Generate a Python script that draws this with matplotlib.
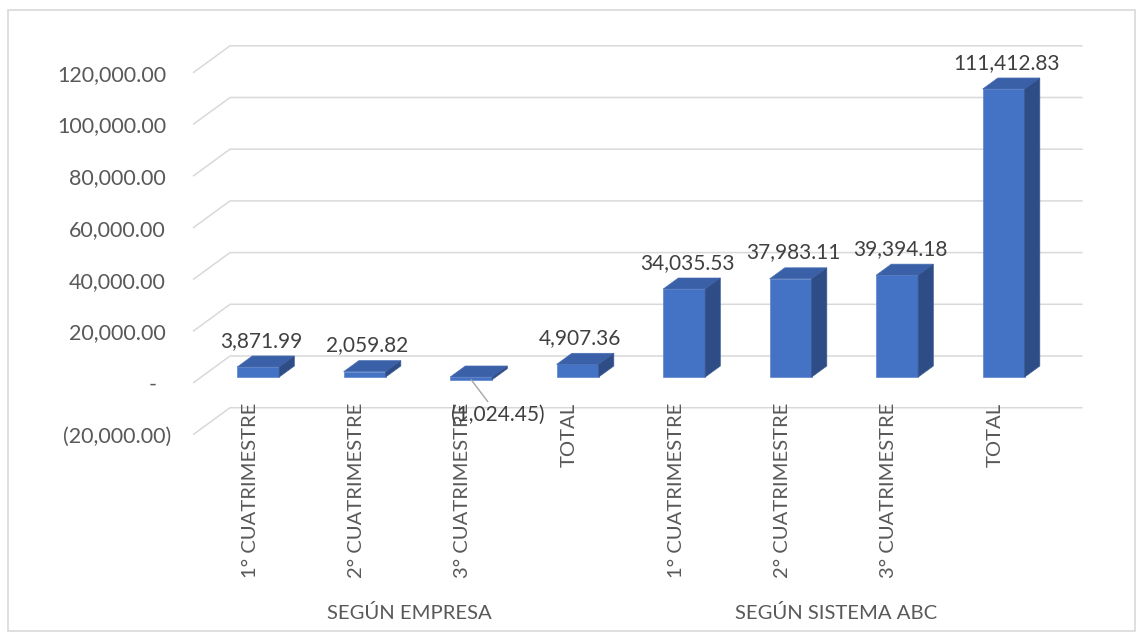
import numpy as np
import matplotlib.pyplot as plt
from matplotlib.patches import Polygon, Rectangle

# data
categorias = ['1° CUATRIMESTRE', '2° CUATRIMESTRE', '3° CUATRIMESTRE', 'TOTAL',
              '1° CUATRIMESTRE', '2° CUATRIMESTRE', '3° CUATRIMESTRE', 'TOTAL']
grupos = ['SEGÚN EMPRESA', 'SEGÚN SISTEMA ABC']
valores = [3871.99, 2059.82, -1024.45, 4907.36, 34035.53, 37983.11, 39394.18, 111412.83]
ticks = [-20000, 0, 20000, 40000, 60000, 80000, 100000, 120000]

plt.rcParams['font.family'] = ['Lato', 'DejaVu Sans']

W, H = 1138, 632
fig = plt.figure(figsize=(W / 100, H / 100), dpi=100)
ax = fig.add_axes([0, 0, 1, 1])
ax.axis('off')

# pixel scale of the fake 3d view
PX_CAT = 106.5
X0 = 250
PX_VAL = 51.7 / 20000
Y0 = 383
ax.set_xlim(-X0 / PX_CAT, (W - X0) / PX_CAT)
ax.set_ylim((Y0 - H) / PX_VAL, Y0 / PX_VAL)

DX = 37 / PX_CAT      # depth shift in category units
DY = 27 / PX_VAL      # depth shift in value units
d0, d1 = 0.22, 0.63   # bar front / back depth
hw = 21 / PX_CAT
n = len(valores)
x_left = -0.535
x_right = n - 0.53 + DX

grid_c = '#d9d9d9'
for v in ticks:
    ax.plot([x_left, x_left + DX, x_right], [v, v + DY, v + DY],
            color=grid_c, lw=1.1, zorder=1, solid_capstyle='butt')

def fmt(v):
    if v == 0:
        return '-'
    if v < 0:
        return '({:,.2f})'.format(-v)
    return '{:,.2f}'.format(v)

for v in ticks:
    if v == 0:
        off = -26.5
    elif v < 0:
        off = -15.5
    else:
        off = -19.4
    ax.annotate(fmt(v), (x_left, v), xytext=(off, 0), textcoords='offset points',
                ha='right', va='center_baseline', fontsize=15.5, color='#595959')

front_c = '#4472C4'
top_c = '#3A60A8'
side_c = '#2E4C86'

for i, v in enumerate(valores):
    top = max(v, 0)
    bot = min(v, 0)
    xl = i - hw
    xr = i + hw
    ax.add_patch(Rectangle((xl + d0 * DX, bot + d0 * DY), 2 * hw, top - bot,
                           facecolor=front_c, edgecolor='#5b84cc', lw=0.5, zorder=3))
    ax.add_patch(Polygon([(xl + d0 * DX, top + d0 * DY), (xr + d0 * DX, top + d0 * DY),
                          (xr + d1 * DX, top + d1 * DY), (xl + d1 * DX, top + d1 * DY)],
                         closed=True, facecolor=top_c, edgecolor='#4a6fb5', lw=0.5, zorder=3))
    ax.add_patch(Polygon([(xr + d0 * DX, bot + d0 * DY), (xr + d1 * DX, bot + d1 * DY),
                          (xr + d1 * DX, top + d1 * DY), (xr + d0 * DX, top + d0 * DY)],
                         closed=True, facecolor=side_c, edgecolor='#3c5a94', lw=0.5, zorder=3))
    if v >= 0:
        ax.annotate(fmt(v), (i + d0 * DX, top + d1 * DY), xytext=(2, 11),
                    textcoords='offset points', ha='center', va='center',
                    fontsize=15, color='#404040', zorder=5)
    else:
        ax.annotate(fmt(v), (i + d0 * DX, bot + d0 * DY), xytext=(19, -25),
                    textcoords='offset points', ha='center', va='center',
                    fontsize=15, color='#404040', zorder=5,
                    arrowprops=dict(arrowstyle='-', color='#a6a6a6', lw=1,
                                    shrinkA=0, shrinkB=0))

for i, c in enumerate(categorias):
    ax.annotate(c, (i, 0), xytext=(0, -14.4), textcoords='offset points',
                rotation=90, ha='center', va='top', fontsize=14.6, color='#595959')

for g, nombre in enumerate(grupos):
    ax.annotate(nombre, (g * 4 + 1.5, 0), xytext=(0, -165.5), textcoords='offset points',
                ha='center', va='center', fontsize=14.6, color='#595959')

fig.patches.append(Rectangle((7.5 / W, 1 - 631 / H), 1127 / W, 621 / H,
                             transform=fig.transFigure, fill=False,
                             edgecolor='#d9d9d9', lw=1.2))

fig.savefig('out.png', dpi=100)
